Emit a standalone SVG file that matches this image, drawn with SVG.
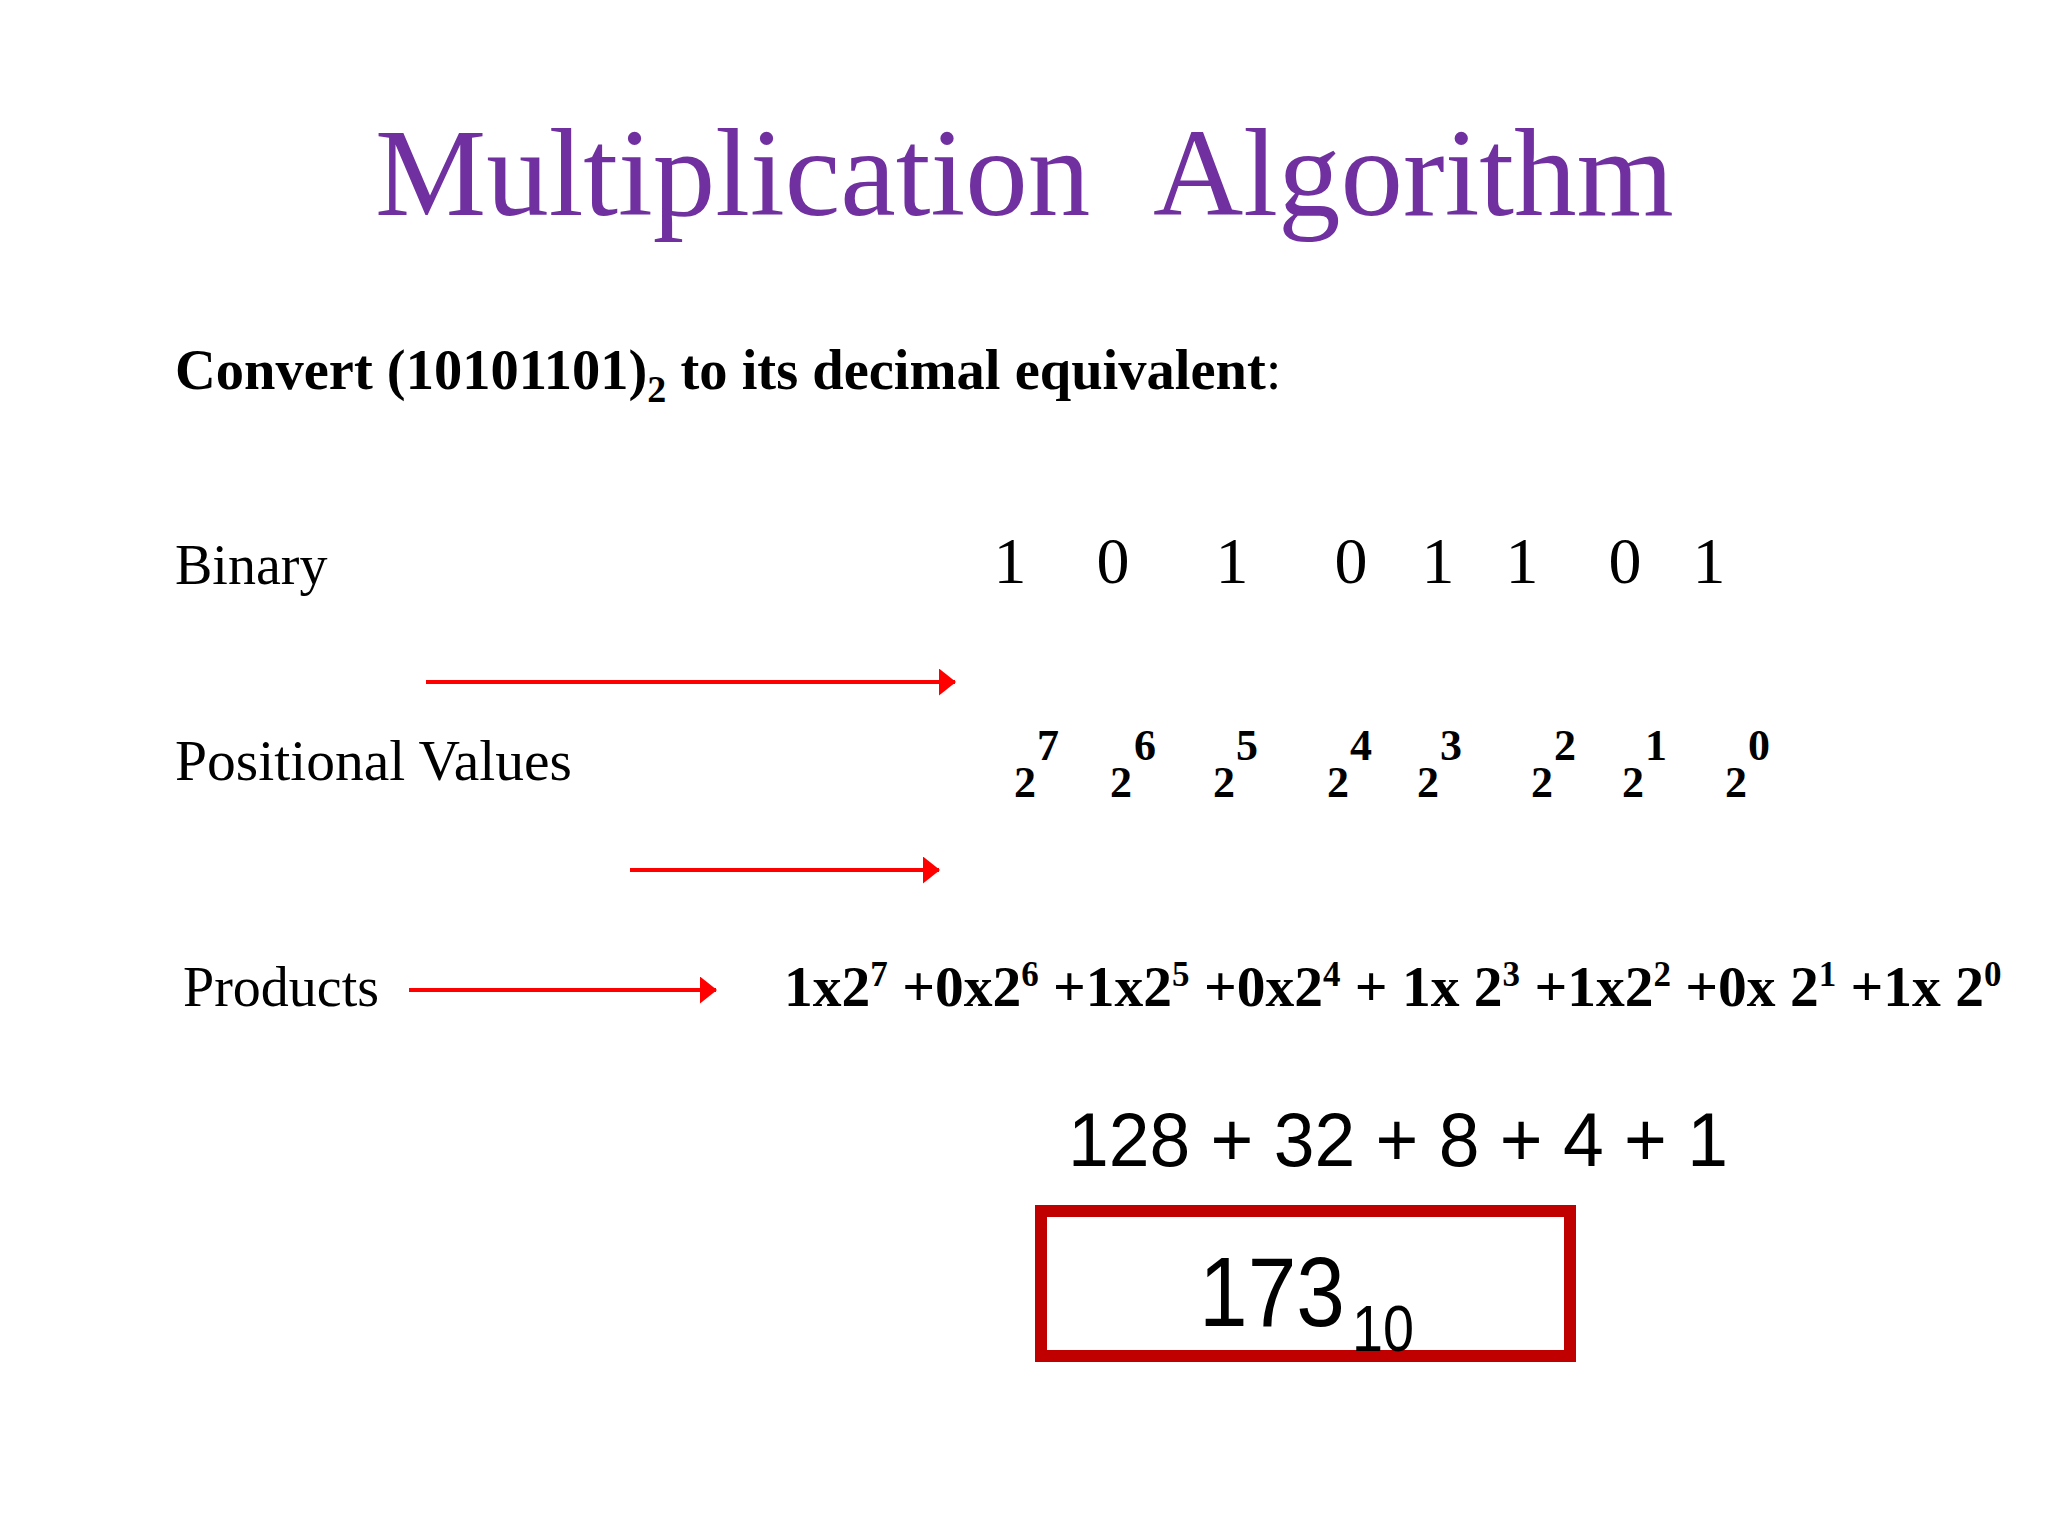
<svg xmlns="http://www.w3.org/2000/svg" width="2048" height="1536" viewBox="0 0 2048 1536">
<style>
.serif{font-family:"Liberation Serif","Times New Roman",serif;fill:#000}
.b{font-weight:bold}
.sans{font-family:"Liberation Sans",Arial,sans-serif;fill:#000}
.arrow{stroke:#FF0000;stroke-width:4;fill:none}
</style>
<defs>
<marker id="ah" markerWidth="17" markerHeight="27" refX="16" refY="13.5" orient="auto" markerUnits="userSpaceOnUse">
<path d="M0,0 L17,13.5 L0,27 Z" fill="#FF0000"/>
</marker>
</defs>
<rect width="2048" height="1536" fill="#FFFFFF"/>
<g id="title">
<text class="serif" x="375" y="215" font-size="125" style="fill:#7030A0">Multiplication</text>
<text class="serif" x="1153" y="215" font-size="125" style="fill:#7030A0">Algorithm</text>
</g>
<g id="question">
<text class="serif b" x="175" y="389" font-size="56.5">Convert (10101101)<tspan font-size="38" dy="13">2</tspan><tspan dy="-13"> to its decimal equivalent</tspan><tspan font-weight="normal">:</tspan></text>
</g>
<g id="binary">
<text class="serif" x="175" y="584" font-size="56">Binary</text>
<g class="serif" font-size="66" text-anchor="middle">
<text x="1010" y="583">1</text><text x="1113" y="583">0</text><text x="1232" y="583">1</text><text x="1351" y="583">0</text>
<text x="1438" y="583">1</text><text x="1522" y="583">1</text><text x="1625" y="583">0</text><text x="1709" y="583">1</text>
</g>
</g>
<g id="positional">
<text class="serif" x="175" y="780" font-size="56" textLength="397" lengthAdjust="spacingAndGlyphs">Positional Values</text>
<g class="serif b" font-size="44" text-anchor="middle">
<text x="1025" y="797">2</text><text x="1121" y="797">2</text><text x="1224" y="797">2</text><text x="1338" y="797">2</text>
<text x="1428" y="797">2</text><text x="1542" y="797">2</text><text x="1633" y="797">2</text><text x="1736" y="797">2</text>
<text x="1048" y="760">7</text><text x="1145" y="760">6</text><text x="1247" y="760">5</text><text x="1361" y="760">4</text>
<text x="1451" y="760">3</text><text x="1565" y="760">2</text><text x="1656" y="760">1</text><text x="1759" y="760">0</text>
</g>
</g>
<g id="products">
<text class="serif" x="183" y="1006" font-size="56">Products</text>
<text class="serif b" x="784" y="1006" font-size="57.5">1x2<tspan font-size="35" dy="-20">7</tspan><tspan dy="20"> +0x2</tspan><tspan font-size="35" dy="-20">6</tspan><tspan dy="20"> +1x2</tspan><tspan font-size="35" dy="-20">5</tspan><tspan dy="20"> +0x2</tspan><tspan font-size="35" dy="-20">4</tspan><tspan dy="20"> + 1x 2</tspan><tspan font-size="35" dy="-20">3</tspan><tspan dy="20"> +1x2</tspan><tspan font-size="35" dy="-20">2</tspan><tspan dy="20"> +0x 2</tspan><tspan font-size="35" dy="-20">1</tspan><tspan dy="20"> +1x 2</tspan><tspan font-size="35" dy="-20">0</tspan></text>
</g>
<g id="sum">
<text class="sans" x="1068" y="1166" font-size="76" textLength="660" lengthAdjust="spacingAndGlyphs">128 + 32 + 8 + 4 + 1</text>
</g>
<g id="result">
<rect x="1041" y="1211" width="529" height="145" fill="none" stroke="#C00000" stroke-width="12"/>
<text class="sans" x="1199" y="1326" font-size="98" textLength="146" lengthAdjust="spacingAndGlyphs">173</text>
<text class="sans" x="1352" y="1351" font-size="64" textLength="62" lengthAdjust="spacingAndGlyphs">10</text>
</g>
<g id="connectors">
<line class="arrow" x1="426" y1="682" x2="955" y2="682" marker-end="url(#ah)"/>
<line class="arrow" x1="630" y1="870" x2="939" y2="870" marker-end="url(#ah)"/>
<line class="arrow" x1="409" y1="990" x2="716" y2="990" marker-end="url(#ah)"/>
</g>
</svg>
